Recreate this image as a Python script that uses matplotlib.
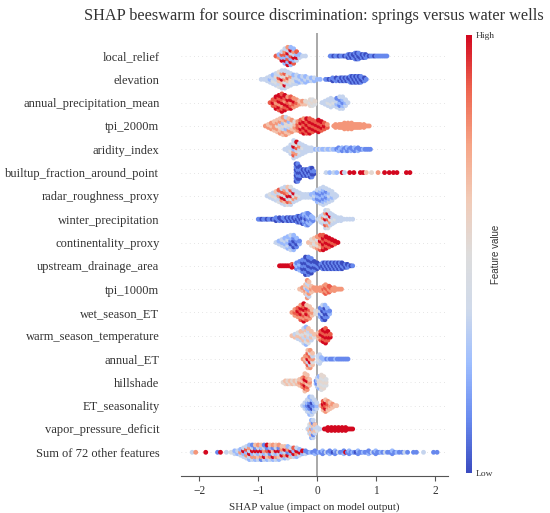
import matplotlib
matplotlib.use("Agg")
import matplotlib.pyplot as plt
from matplotlib.cm import ScalarMappable
from matplotlib.colors import Normalize, LinearSegmentedColormap

plt.rcParams['font.family'] = ['Liberation Serif', 'DejaVu Serif']

title_text = "SHAP beeswarm for source discrimination: springs versus water wells"
x_label = "SHAP value (impact on model output)"
x_ticks = [-2, -1, 0, 1, 2]
colorbar_ticklabels = ["Low", "High"]
colorbar_label = "Feature value"

feature_names = [
    "local_relief", "elevation", "annual_precipitation_mean", "tpi_2000m",
    "aridity_index", "builtup_fraction_around_point", "radar_roughness_proxy",
    "winter_precipitation", "continentality_proxy", "upstream_drainage_area",
    "tpi_1000m", "wet_season_ET", "warm_season_temperature", "annual_ET",
    "hillshade", "ET_seasonality", "vapor_pressure_deficit",
    "Sum of 72 other features",
]

# feature-value level of each code character: 0 = low ... 9 = high
level_values = [0.0, 0.12, 0.24, 0.35, 0.46, 0.54, 0.66, 0.78, 0.89, 1.0]

# each entry: (SHAP value, one code character per sample at that SHAP value)
local_relief = [
    (-0.70, "8"), (-0.65, "72"), (-0.60, "9283"), (-0.55, "292873"),
    (-0.50, "9282937"), (-0.45, "2928392"), (-0.40, "829372"), (-0.35, "3928"),
    (-0.30, "32"), (-0.25, "3"), (-0.20, "3"),
    (0.22, "1"), (0.25, "1"), (0.28, "0"), (0.31, "1"), (0.34, "1"), (0.37, "0"),
    (0.40, "1"), (0.43, "1"), (0.46, "0"), (0.49, "1"), (0.52, "01"), (0.55, "10"),
    (0.58, "01"), (0.61, "10"), (0.64, "101"), (0.67, "010"), (0.70, "101"),
    (0.73, "01"), (0.76, "10"), (0.79, "01"), (0.82, "10"), (0.85, "1"),
    (0.88, "0"), (0.91, "1"), (0.94, "1"), (0.97, "0"), (1.00, "1"), (1.03, "1"),
    (1.06, "1"), (1.09, "1"), (1.12, "1"), (1.15, "1"), (1.18, "1"),
]
elevation = [
    (-0.95, "3"), (-0.90, "3"), (-0.85, "33"), (-0.80, "323"), (-0.75, "3432"),
    (-0.70, "34353"), (-0.65, "436835"), (-0.60, "3569473"), (-0.55, "3947583"),
    (-0.50, "436853"), (-0.45, "34573"), (-0.40, "3432"), (-0.35, "3233"),
    (-0.30, "232"), (-0.25, "323"), (-0.20, "232"), (-0.15, "23"), (-0.10, "32"),
    (-0.05, "23"), (0.00, "2"), (0.05, "2"),
    (0.14, "1"), (0.17, "1"), (0.20, "0"), (0.23, "1"), (0.26, "01"), (0.29, "1"),
    (0.32, "10"), (0.35, "1"), (0.38, "01"), (0.41, "10"), (0.44, "01"),
    (0.47, "10"), (0.50, "01"), (0.53, "10"), (0.56, "101"), (0.59, "010"),
    (0.62, "101"), (0.65, "010"), (0.68, "101"), (0.71, "010"), (0.74, "101"),
    (0.77, "01"), (0.80, "10"), (0.83, "1"),
]
annual_precipitation_mean = [
    (-0.80, "8"), (-0.75, "898"), (-0.70, "98789"), (-0.65, "897989"),
    (-0.60, "9879898"), (-0.55, "989789"), (-0.50, "89897"), (-0.45, "98798"),
    (-0.40, "7897"), (-0.35, "787"), (-0.30, "76"), (-0.25, "67"), (-0.20, "65"),
    (-0.15, "5"), (-0.12, "545"), (-0.08, "454"), (-0.04, "45"),
    (0.08, "3"), (0.13, "33"), (0.18, "343"), (0.23, "3433"), (0.28, "343"),
    (0.33, "3231"), (0.38, "31213"), (0.43, "32123"), (0.48, "323"), (0.52, "3"),
]
tpi_2000m = [
    (-0.88, "7"), (-0.83, "76"), (-0.78, "767"), (-0.73, "6776"), (-0.68, "67576"),
    (-0.63, "765376"), (-0.58, "6735267"), (-0.53, "7624573"), (-0.48, "673526"),
    (-0.43, "76547"), (-0.38, "6765"), (-0.33, "7887"), (-0.28, "89798"),
    (-0.23, "989897"), (-0.18, "898989"), (-0.13, "989898"), (-0.08, "89898"),
    (-0.03, "9898"), (0.02, "98989"), (0.07, "8989"), (0.12, "898"), (0.17, "87"),
    (0.28, "7"), (0.31, "77"), (0.34, "7"), (0.37, "77"), (0.40, "77"),
    (0.43, "77"), (0.46, "777"), (0.49, "77"), (0.52, "777"), (0.55, "77"),
    (0.58, "777"), (0.61, "77"), (0.64, "77"), (0.67, "77"), (0.70, "77"),
    (0.73, "77"), (0.76, "7"), (0.79, "77"), (0.82, "7"), (0.85, "7"), (0.88, "7"),
]
aridity_index = [
    (-0.55, "3"), (-0.50, "33"), (-0.45, "3433"), (-0.40, "3872943"),
    (-0.35, "373849"), (-0.30, "34373"), (-0.25, "3343"), (-0.20, "333"),
    (-0.15, "33"), (-0.10, "33"),
    (-0.06, "3"), (-0.03, "2"), (0.00, "3"), (0.03, "2"), (0.06, "3"), (0.09, "2"),
    (0.12, "2"), (0.15, "3"), (0.18, "2"), (0.21, "2"), (0.24, "3"), (0.27, "2"),
    (0.30, "2"), (0.33, "1"), (0.36, "21"), (0.39, "2"), (0.42, "12"), (0.45, "1"),
    (0.48, "21"), (0.51, "12"), (0.54, "1"), (0.57, "21"), (0.60, "1"),
    (0.63, "12"), (0.66, "1"), (0.69, "21"), (0.72, "1"), (0.75, "1"), (0.78, "2"),
    (0.81, "1"), (0.84, "1"), (0.87, "1"), (0.90, "1"),
]
builtup_fraction_around_point = [
    (-0.36, "0101010"), (-0.33, "1010101"), (-0.30, "01010"), (-0.27, "101"),
    (-0.24, "010"), (-0.21, "101"), (-0.18, "010"), (-0.15, "101"),
    (-0.12, "0101"), (-0.09, "1010"), (-0.06, "01"),
    (0.15, "3"), (0.21, "2"), (0.28, "3"), (0.33, "2"), (0.42, "9"), (0.46, "3"),
    (0.55, "9"), (0.62, "9"), (0.73, "9"), (0.78, "9"), (0.83, "6"), (0.92, "5"),
    (1.03, "7"), (1.14, "9"), (1.22, "9"), (1.29, "9"), (1.35, "9"),
    (1.51, "9"), (1.57, "9"),
]
radar_roughness_proxy = [
    (-0.85, "3"), (-0.80, "34"), (-0.75, "353"), (-0.70, "3436"), (-0.65, "43738"),
    (-0.60, "379483"), (-0.55, "3694873"), (-0.50, "4839736"), (-0.45, "3749384"),
    (-0.40, "37493"), (-0.35, "3743"), (-0.30, "343"),
    (-0.25, "33"), (-0.20, "33"), (-0.15, "33"), (-0.10, "32"), (-0.05, "232"),
    (0.00, "21213"), (0.05, "312123"), (0.10, "3212123"), (0.15, "321213"),
    (0.20, "32323"), (0.25, "3233"), (0.30, "33"), (0.33, "3"),
]
winter_precipitation = [
    (-1.00, "1"), (-0.97, "1"), (-0.94, "0"), (-0.91, "1"), (-0.88, "1"),
    (-0.85, "0"), (-0.82, "1"), (-0.79, "1"), (-0.76, "0"), (-0.73, "1"),
    (-0.70, "01"), (-0.67, "1"), (-0.64, "10"), (-0.61, "0"), (-0.58, "01"),
    (-0.55, "1"), (-0.52, "10"), (-0.49, "01"), (-0.46, "10"), (-0.43, "01"),
    (-0.40, "10"), (-0.37, "01"), (-0.34, "101"), (-0.31, "010"), (-0.28, "101"),
    (-0.25, "0101"), (-0.22, "1212"), (-0.19, "21012"), (-0.16, "12121"),
    (-0.13, "2121"), (-0.10, "212"), (-0.07, "12"),
    (0.02, "3"), (0.06, "343"), (0.10, "3473"), (0.14, "3839473"),
    (0.18, "4738394"), (0.22, "37493"), (0.26, "3433"), (0.30, "343"),
    (0.35, "33"), (0.40, "33"), (0.45, "3"), (0.50, "3"), (0.55, "3"), (0.60, "3"),
]
continentality_proxy = [
    (-0.70, "3"), (-0.65, "32"), (-0.60, "323"), (-0.55, "3232"), (-0.50, "23232"),
    (-0.45, "320123"), (-0.40, "201012"), (-0.35, "1012"), (-0.30, "21"),
    (-0.15, "6"), (-0.10, "565"), (-0.05, "6456"), (0.00, "75647"),
    (0.05, "867978"), (0.10, "989898"), (0.15, "98989"), (0.20, "8989"),
    (0.25, "989"), (0.30, "89"), (0.35, "9"),
]
upstream_drainage_area = [
    (-0.64, "9"), (-0.61, "9"), (-0.58, "9"), (-0.55, "9"), (-0.52, "9"),
    (-0.49, "9"), (-0.46, "9"), (-0.43, "98"), (-0.40, "9"), (-0.37, "93"),
    (-0.35, "121"), (-0.30, "2121"), (-0.25, "10101"), (-0.20, "0101010"),
    (-0.15, "1010101"), (-0.10, "010101"), (-0.05, "1010"), (0.00, "010"),
    (0.03, "10"), (0.06, "01"), (0.09, "101"), (0.12, "010"), (0.15, "101"),
    (0.18, "010"), (0.21, "101"), (0.24, "010"), (0.27, "101"), (0.30, "010"),
    (0.33, "101"), (0.36, "010"), (0.39, "101"), (0.42, "010"), (0.45, "10"),
    (0.48, "01"), (0.51, "10"), (0.54, "1"), (0.57, "0"), (0.60, "1"),
]
tpi_1000m = [
    (-0.30, "6"), (-0.25, "67"), (-0.20, "6736"), (-0.17, "7362637"),
    (-0.14, "372636"), (-0.10, "676"), (-0.06, "67"),
    (-0.04, "7"), (-0.01, "77"), (0.02, "7"), (0.05, "77"), (0.08, "7"),
    (0.11, "787"), (0.14, "8787"), (0.17, "787"), (0.20, "878"), (0.23, "78"),
    (0.26, "7"), (0.29, "77"), (0.32, "7"), (0.35, "7"), (0.38, "7"), (0.41, "7"),
]
wet_season_ET = [
    (-0.43, "7"), (-0.38, "787"), (-0.33, "7898"), (-0.28, "879897"),
    (-0.23, "9787989"), (-0.18, "879896"), (-0.13, "78786"), (-0.09, "676"),
    (-0.03, "54"), (0.01, "45"),
    (0.05, "2131"), (0.09, "102013"), (0.13, "010102"), (0.17, "1012"), (0.21, "21"),
]
warm_season_temperature = [
    (-0.43, "6"), (-0.38, "63"), (-0.33, "364"), (-0.28, "3646"), (-0.23, "363463"),
    (-0.19, "2436462"), (-0.15, "463436"), (-0.10, "3636"), (-0.05, "46"),
    (0.02, "676"), (0.06, "8798"), (0.10, "98989"), (0.14, "989898"),
    (0.18, "8989"), (0.22, "98"),
]
annual_ET = [
    (-0.24, "7"), (-0.20, "767"), (-0.16, "6839786"), (-0.12, "7397847"),
    (-0.08, "64736"),
    (0.01, "343"), (0.04, "3433"), (0.07, "32"), (0.10, "2"), (0.13, "2"),
    (0.16, "1"), (0.19, "2"), (0.22, "1"), (0.25, "1"), (0.28, "1"), (0.31, "2"),
    (0.34, "1"), (0.37, "1"), (0.40, "1"), (0.43, "1"), (0.46, "1"), (0.49, "1"),
    (0.52, "1"),
]
hillshade = [
    (-0.58, "5"), (-0.54, "56"), (-0.50, "65"), (-0.46, "56"), (-0.42, "65"),
    (-0.38, "56"), (-0.34, "65"), (-0.30, "676"),
    (-0.25, "7867"), (-0.21, "6897986"), (-0.17, "786976"), (-0.13, "676"),
    (-0.02, "21"), (0.00, "3123"), (0.03, "24542"), (0.07, "454545"),
    (0.11, "54545"), (0.15, "454"),
]
ET_seasonality = [
    (-0.25, "3"), (-0.21, "323"), (-0.17, "32123"), (-0.13, "2310132"),
    (-0.09, "3201023"), (-0.05, "32123"), (-0.01, "323"),
    (0.06, "6"), (0.10, "6898"), (0.14, "79896"), (0.18, "6787"), (0.22, "676"),
    (0.26, "67"), (0.30, "6"), (0.33, "6"),
]
vapor_pressure_deficit = [
    (-0.16, "3"), (-0.13, "3634"), (-0.10, "2637362"), (-0.07, "3162613"),
    (-0.04, "3636"), (0.00, "43"), (0.04, "3"),
    (0.12, "9"), (0.15, "9"), (0.18, "99"), (0.21, "9"), (0.24, "99"),
    (0.27, "9"), (0.30, "99"), (0.33, "9"), (0.36, "99"), (0.39, "9"),
    (0.42, "99"), (0.45, "9"), (0.48, "99"), (0.51, "9"), (0.54, "9"),
    (0.57, "9"), (0.60, "9"),
]
sum_of_72_other_features = [
    (-2.12, "3"), (-2.06, "7"), (-1.89, "9"), (-1.69, "1"), (-1.64, "9"),
    (-1.54, "3"), (-1.46, "4"), (-1.40, "32"), (-1.35, "23"), (-1.30, "372"),
    (-1.25, "3293"), (-1.20, "37283"), (-1.15, "239372"), (-1.10, "372931"),
    (-1.05, "273916"), (-1.00, "362937"), (-0.95, "173926"), (-0.90, "392731"),
    (-0.85, "263819"), (-0.80, "371926"), (-0.75, "293617"), (-0.70, "372936"),
    (-0.65, "263917"), (-0.60, "39276"), (-0.55, "27396"), (-0.50, "39172"),
    (-0.45, "6293"), (-0.40, "3928"), (-0.35, "2793"), (-0.30, "392"),
    (-0.25, "29"), (-0.20, "31"), (-0.16, "1"),
    (-0.12, "2"), (-0.08, "1"), (-0.04, "21"), (0.00, "1"), (0.03, "2"),
    (0.06, "1"), (0.09, "12"), (0.12, "1"), (0.15, "3"), (0.18, "1"),
    (0.21, "21"), (0.24, "1"), (0.27, "0"), (0.30, "12"), (0.33, "1"),
    (0.36, "3"), (0.39, "1"), (0.42, "1"), (0.45, "21"), (0.48, "9"),
    (0.51, "1"), (0.54, "12"), (0.57, "1"), (0.60, "2"), (0.63, "1"),
    (0.66, "0"), (0.69, "12"), (0.72, "1"), (0.75, "1"), (0.78, "2"),
    (0.81, "1"), (0.84, "1"), (0.87, "21"), (0.90, "1"), (0.93, "3"),
    (0.96, "1"), (0.99, "12"), (1.02, "1"), (1.05, "1"), (1.08, "2"),
    (1.11, "1"), (1.15, "3"), (1.19, "1"), (1.23, "1"), (1.27, "12"),
    (1.31, "1"), (1.35, "2"), (1.39, "1"), (1.44, "1"), (1.48, "3"),
    (1.53, "1"), (1.63, "1"), (1.68, "1"), (1.80, "3"), (1.97, "1"), (2.03, "1"),
]

rows = [
    local_relief, elevation, annual_precipitation_mean, tpi_2000m, aridity_index,
    builtup_fraction_around_point, radar_roughness_proxy, winter_precipitation,
    continentality_proxy, upstream_drainage_area, tpi_1000m, wet_season_ET,
    warm_season_temperature, annual_ET, hillshade, ET_seasonality,
    vapor_pressure_deficit, sum_of_72_other_features,
]

text_color = "#333333"
base = plt.get_cmap("coolwarm")
cmap = LinearSegmentedColormap.from_list(
    "coolwarm_bright",
    [base(0.0), base(0.15), base(0.3), base(0.45), base(0.5), base(0.6),
     base(0.72), "#ee6650", "#d3081f"])
row_step = 0.125

fig = plt.figure(figsize=(5.5, 5.13), dpi=100)
ax = fig.add_axes([0.329, 0.0729, 0.485, 0.8633])

n_rows = len(rows)
for i, row in enumerate(rows):
    ypos = n_rows - 1 - i
    ax.axhline(ypos, color="#cccccc", lw=0.5, dashes=(1, 5), zorder=-1)
    xs, ys, cs = [], [], []
    for xv, codes in row:
        n = len(codes)
        for k, ch in enumerate(codes):
            xs.append(xv)
            ys.append(ypos + (k - (n - 1) / 2) * row_step)
            cs.append(level_values[int(ch)])
    ax.scatter(xs, ys, c=cs, cmap=cmap, vmin=0, vmax=1, s=12, linewidths=0,
               zorder=3)

ax.axvline(0, color="#999999", lw=1.2, zorder=-1)
ax.set_xlim(-2.31, 2.21)
ax.set_ylim(-1, n_rows)
ax.set_yticks(range(n_rows))
ax.set_yticklabels(feature_names[::-1], fontsize=9, color=text_color)
ax.tick_params(axis='y', length=0, pad=15.5)
ax.set_xticks(x_ticks)
ax.tick_params(axis='x', labelsize=8.3, labelcolor=text_color, color="#555555",
               length=3.5, width=0.8)
for side in ("top", "right", "left"):
    ax.spines[side].set_visible(False)
ax.spines["bottom"].set_color("#555555")
ax.set_xlabel(x_label, fontsize=8, color=text_color, labelpad=4)
ax.set_title(title_text, fontsize=11.7, color=text_color, pad=9.5)

cax = fig.add_axes([0.847, 0.078, 0.0105, 0.854])
sm = ScalarMappable(norm=Normalize(0, 1), cmap=cmap)
cb = fig.colorbar(sm, cax=cax, ticks=[0, 1])
cb.set_ticklabels(colorbar_ticklabels)
cb.outline.set_visible(False)
cax.tick_params(length=0, labelsize=6.8, labelcolor=text_color, pad=3)
fig.text(0.902, 0.505, colorbar_label, rotation=90, ha="center", va="center",
         fontsize=7, color=text_color, family=["Liberation Sans", "DejaVu Sans"])

fig.savefig("out.png", dpi=100)
